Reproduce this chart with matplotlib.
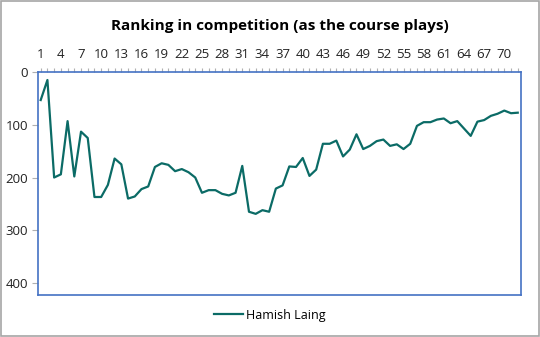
import matplotlib.pyplot as plt
from matplotlib.patches import Rectangle
from matplotlib.ticker import MultipleLocator

# Data
rounds = list(range(1, 73))
ranking = [53, 15, 200, 194, 93, 198, 113, 125, 237, 237,
           214, 164, 175, 240, 236, 222, 217, 180, 173, 176,
           188, 184, 190, 200, 229, 224, 224, 231, 234, 229,
           178, 265, 269, 262, 265, 221, 215, 179, 180, 163,
           197, 185, 136, 136, 130, 160, 147, 118, 146, 140,
           131, 128, 140, 137, 146, 136, 102, 95, 95, 90,
           88, 97, 93, 107, 121, 94, 91, 83, 79, 73,
           78, 77]
series_name = 'Hamish Laing'
title = 'Ranking in competition (as the course plays)'

plt.rcParams['font.family'] = ['Open Sans', 'DejaVu Sans']

fig = plt.figure(figsize=(5.4, 3.37), dpi=100)
ax = fig.add_axes([0.0704, 0.1246, 0.8946, 0.6614])

# Plot line
ax.plot(rounds, ranking, color='#0b6b66', linewidth=1.6, label=series_name)

# Axes: rank 0 at top, rounds along the top
ax.set_ylim(423, 0)
ax.set_xlim(0.6, 72.5)
ax.yaxis.set_major_locator(MultipleLocator(100))
ax.set_xticks(range(1, 73, 3))
ax.xaxis.set_minor_locator(MultipleLocator(1))
ax.xaxis.tick_top()
ax.tick_params(axis='x', which='both', direction='out', length=3, width=0.8,
               color='#b0b0b0', labelsize=9.5, pad=5, labelcolor='#222222')
ax.tick_params(axis='y', direction='out', length=4, width=0.8,
               color='#b0b0b0', labelsize=9.5, pad=3, labelcolor='#222222')
for s in ax.spines.values():
    s.set_color('#4472c4')
    s.set_linewidth(1.2)

ax.set_title(title, fontsize=11, fontweight='bold', pad=30)

# Legend at the bottom
fig.legend(loc='center', bbox_to_anchor=(0.5, 0.065), frameon=False,
           fontsize=9, handlelength=2.3, handletextpad=0.3)

# Grey border around the whole chart
fig.patches.append(Rectangle((0.001, 0.002), 0.997, 0.996, transform=fig.transFigure,
                             fill=False, edgecolor='#a6a6a6', linewidth=1.2))

plt.savefig('out.png', dpi=100)
